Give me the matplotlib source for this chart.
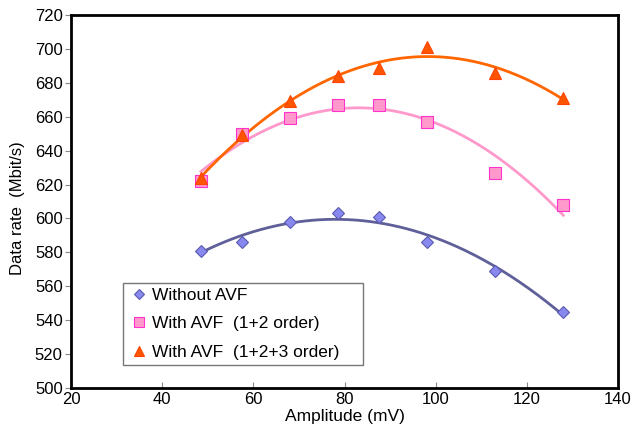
import numpy as np
import matplotlib
matplotlib.use("Agg")
import matplotlib.pyplot as plt

plt.rcParams['font.family'] = ['Liberation Sans', 'DejaVu Sans']

amplitude = [48.5, 57.5, 68, 78.5, 87.5, 98, 113, 128]
without_avf = [581, 586, 598, 603, 601, 586, 569, 545]
avf_12 = [622, 650, 659, 667, 667, 657, 627, 608]
avf_123 = [624, 649, 669, 684, 689, 701, 686, 671]

labels = ["Without AVF", "With AVF  (1+2 order)", "With AVF  (1+2+3 order)"]

fig = plt.figure(figsize=(6.35, 4.37), dpi=100)
ax = fig.add_axes([71/635, 1-388/437, (618-71)/635, (388-15)/437])

x = np.array(amplitude)
xs = np.linspace(x.min(), x.max(), 200)

series = [
    (without_avf, 'D', '#8888EE', '#5A5AB0', '#5F5F99', 6),
    (avf_12, 's', '#FF99CC', '#FF33CC', '#FF99CC', 8),
    (avf_123, '^', '#FF5500', '#FF4400', '#FF6600', 8),
]
handles = []
for (vals, m, fc, ec, lc, ms), lab in zip(series, labels):
    coef = np.polyfit(x, vals, 2)
    ax.plot(xs, np.polyval(coef, xs), color=lc, lw=2, zorder=2)
    h = ax.plot(x, vals, linestyle='none', marker=m, markersize=ms,
                markerfacecolor=fc, markeredgecolor=ec, markeredgewidth=0.8,
                label=lab, zorder=3)[0]
    handles.append(h)

ax.set_xlim(20, 140)
ax.set_ylim(500, 720)
ax.set_xticks(range(20, 141, 20))
ax.set_yticks(range(500, 721, 20))
ax.tick_params(axis='x', direction='in', length=4, labelsize=12, pad=3, color='#888888')
ax.tick_params(axis='y', direction='out', length=4, labelsize=12, pad=2, color='#888888')
for s in ax.spines.values():
    s.set_linewidth(2)
    s.set_color('black')
ax.set_xlabel("Amplitude (mV)", fontsize=12.5, labelpad=1)
ax.set_ylabel("Data rate  (Mbit/s)", fontsize=12)
ax.yaxis.set_label_coords(-0.084, 0.483)

leg = ax.legend(handles=handles, loc='lower left',
                bbox_to_anchor=(0.095, 0.062, 0.439, 0.2), mode='expand',
                borderaxespad=0,
                fontsize=12.5, frameon=True, fancybox=False, handlelength=1.3,
                handletextpad=0.05, borderpad=0.3, labelspacing=0.75,
                edgecolor='#555555', markerscale=0.85)
leg.get_frame().set_linewidth(1)

fig.savefig("out.png", dpi=100)
